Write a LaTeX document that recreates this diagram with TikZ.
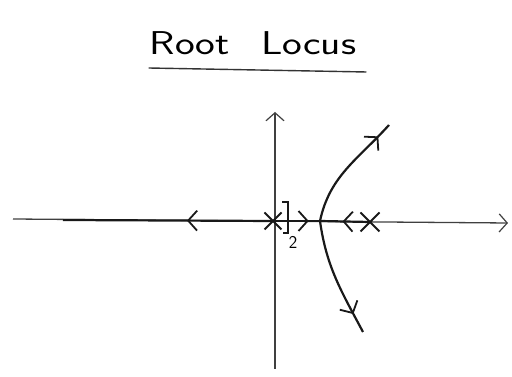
\documentclass[tikz,border=0pt]{standalone}
\usetikzlibrary{arrows.meta,decorations.markings,shapes.misc}
\tikzset{
  axisline/.style={line width=1.3pt,draw=black!75,-{Straight Barb[length=8pt,width=18pt,line width=1.2pt]}},
  locus/.style={line width=2.2pt,draw=black!90},
  polemark/.style={cross out,draw=black!90,line width=2pt,minimum size=15pt,inner sep=0pt},
  midarrow/.style={postaction={decorate},decoration={markings,
    mark=at position #1 with {\arrow{Straight Barb[length=9pt,width=20pt,line width=1.8pt]}}}}
}
\begin{document}
\begin{tikzpicture}[x=1pt,y=1pt]
  \useasboundingbox (0,0) rectangle (512,377);
  % title
  \node[anchor=base,inner sep=0pt,font=\sffamily\fontsize{33}{38}\selectfont] (title) at (253,322)
    {\scalebox{1.27}[1]{Root\hspace{0.75em}Locus}};
  \draw[line width=1.4pt,black!80] ([xshift=-1pt,yshift=-13pt]title.base west) -- ([xshift=10pt,yshift=-17pt]title.base east);
  % axes
  \coordinate (xl) at (13,158);
  \coordinate (xr) at (508,154);
  \coordinate (yb) at (275,8);
  \coordinate (yt) at (275,265);
  \draw[axisline] (xl) -- (xr);
  \draw[axisline] (yb) -- (yt);
  % poles and break-away point
  \node[polemark] (dpole) at (273,156) {};
  \node[polemark,minimum size=17pt] (pole) at (370,155) {};
  \coordinate (brk) at (320,156);
  \coordinate (lend) at (63,157);
  \coordinate (upend) at (389,252);
  \coordinate (loend) at (363,45);
  % multiplicity
  \draw[line width=1.5pt,black!90] (282,175) -- (288,175) -- (288,144) -- (283,144);
  \node[font=\sffamily\fontsize{18}{20}\selectfont,inner sep=0pt] (mult) at (293,135) {2};
  % locus on the real axis
  \draw[locus,midarrow=0.41] (dpole.center) -- (lend);
  \draw[locus,midarrow=0.76] (dpole.center) -- (brk);
  \draw[locus,midarrow=0.55] (pole.center) -- (brk);
  % complex branches
  \draw[locus,midarrow=0.87] (brk) to[out=78,in=228] (upend);
  \draw[locus,midarrow=0.83] (brk) to[out=-82,in=118] (loend);
\end{tikzpicture}
\end{document}
